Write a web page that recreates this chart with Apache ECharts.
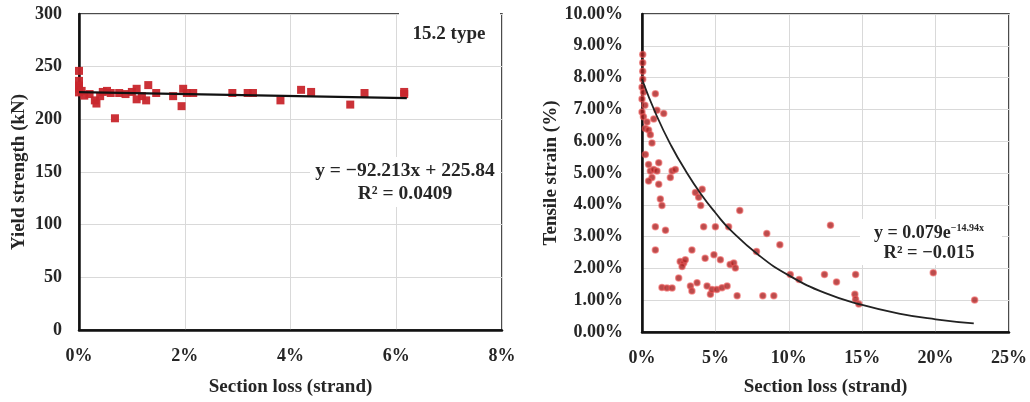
<!DOCTYPE html>
<html>
<head>
<meta charset="utf-8">
<script src="https://cdn.jsdelivr.net/npm/echarts@6/dist/echarts.min.js"></script>
<style>html,body{margin:0;padding:0;background:#fff}#c{width:1030px;height:402px}</style>
</head>
<body>
<div id="c"></div>
<script>
// Left chart: section loss (%) vs yield strength (kN)
const yieldPoints = [
  [0,246],[0,236.5],[0,232],[0,229],[0,225.6],[0.05,227],[0.1,222.5],[0.2,224],
  [0.3,218],[0.33,215],[0.4,222],[0.45,226],[0.53,227],[0.6,225],[0.68,201],
  [0.76,225],[0.88,224],[1.0,226],[1.09,229],[1.09,219],[1.19,222],[1.27,218],
  [1.31,232.5],[1.46,225],[1.78,222],[1.94,212.5],[1.97,229],[2.04,225],[2.16,225],
  [2.9,225],[3.19,225],[3.29,225],[3.81,218],[4.2,228],[4.39,226],[5.13,214],
  [5.4,225],[6.15,224],[6.15,226]
];
const yieldTrend = [[0,225.84],[6.2,220.12]];
const leftXTicks = {min:0,max:8,interval:2};
const leftYTicks = {min:0,max:300,interval:50};

// Right chart: section loss (%) vs tensile strain (%)
const strainPoints = [
  [0.05,8.73],[0.05,8.47],[0.05,8.2],[0.05,7.95],[0,7.7],[0.1,7.54],[0,7.33],[0.2,7.13],
  [0,6.92],[0.1,6.77],[0.34,6.6],[0.23,6.4],[0.45,6.35],[0.57,6.2],[0.8,6.7],[0.68,5.94],
  [0.23,5.58],[0.45,5.27],[0.57,5.06],[0.8,5.11],[1.02,5.06],[0.68,4.86],[0.45,4.75],
  [1.14,5.32],[1.14,4.65],[1.25,4.18],[1.36,3.98],[0.91,7.49],[1.02,6.97],[1.48,6.87],
  [2.05,5.06],[1.93,4.86],[2.27,5.11],[0.91,3.31],[1.6,3.2],[0.91,2.58],[1.36,1.4],
  [1.7,1.38],[2.05,1.38],[2.6,2.22],[2.84,2.17],[2.95,2.27],[2.73,2.06],[2.5,1.7],
  [3.4,2.58],[3.3,1.45],[3.4,1.29],[3.75,1.55],[3.64,4.39],[4.1,4.49],[3.86,4.24],
  [4.0,3.98],[4.2,3.31],[4.3,2.32],[5.0,3.31],[4.9,2.43],[5.34,2.27],[4.43,1.45],
  [4.66,1.19],[4.77,1.34],[5.1,1.34],[5.45,1.39],[5.8,1.45],[5.9,3.31],[6.0,2.12],
  [6.25,2.17],[6.36,2.01],[6.48,1.14],[6.66,3.82],[7.8,2.53],[8.23,1.14],[8.98,1.14],
  [8.5,3.1],[9.39,2.74],[10.1,1.81],[10.7,1.65],[12.43,1.81],[12.84,3.36],[13.25,1.57],
  [14.55,1.81],[14.5,1.19],[14.55,1.03],[14.77,0.88],[19.84,1.86],[22.66,1.01]
];
const strainTrend = [
  [0,7.95],[1,6.8],[2,5.85],[3,5.05],[4,4.35],[5,3.75],[6,3.22],[8,2.4],[10,1.78],
  [12.5,1.22],[15,0.85],[17.5,0.58],[20,0.4],[22.6,0.27]
];
const rightXTicks = {min:0,max:25,interval:5};
const rightYTicks = {min:0,max:10,interval:1};

const FONT = '"Liberation Serif", "DejaVu Serif", serif';
const TXT = '#262626';
const labelStyle = {fontFamily:FONT,fontWeight:'bold',fontSize:18,color:TXT};
const nameStyle = {fontFamily:FONT,fontWeight:'bold',fontSize:19,color:TXT};

const chart = echarts.init(document.getElementById('c'), null, {renderer:'canvas'});
chart.setOption({
  animation:false,
  backgroundColor:'#fff',
  grid:[
    {left:79,top:14,width:423,height:320,show:true,borderColor:'#111',borderWidth:1.5,backgroundColor:'transparent'},
    {left:642,top:14,width:368,height:322,show:true,borderColor:'#111',borderWidth:1.5,backgroundColor:'transparent'}
  ],
  xAxis:[
    {type:'value',gridIndex:0,min:leftXTicks.min,max:leftXTicks.max,interval:leftXTicks.interval,
     name:'Section loss (strand)',nameLocation:'middle',nameGap:48,nameTextStyle:nameStyle,
     axisLine:{show:true,onZero:false,lineStyle:{color:'#111',width:2.5}},axisTick:{show:false},
     axisLabel:Object.assign({margin:17,formatter:'{value}%'},labelStyle),
     splitLine:{show:true,lineStyle:{color:'#d9d9d9',width:1}}},
    {type:'value',gridIndex:1,min:rightXTicks.min,max:rightXTicks.max,interval:rightXTicks.interval,
     name:'Section loss (strand)',nameLocation:'middle',nameGap:46,nameTextStyle:nameStyle,
     axisLine:{show:true,onZero:false,lineStyle:{color:'#111',width:2.5}},axisTick:{show:false},
     axisLabel:Object.assign({margin:17,formatter:'{value}%'},labelStyle),
     splitLine:{show:true,lineStyle:{color:'#d9d9d9',width:1}}}
  ],
  yAxis:[
    {type:'value',gridIndex:0,min:leftYTicks.min,max:leftYTicks.max,interval:leftYTicks.interval,
     name:'Yield strength (kN)',nameLocation:'middle',nameGap:50,nameTextStyle:nameStyle,
     axisLine:{show:true,onZero:false,lineStyle:{color:'#111',width:2.5}},axisTick:{show:false},
     axisLabel:Object.assign({margin:17},labelStyle),
     splitLine:{show:true,lineStyle:{color:'#d9d9d9',width:1}}},
    {type:'value',gridIndex:1,min:rightYTicks.min,max:rightYTicks.max,interval:rightYTicks.interval,
     name:'Tensile strain (%)',nameLocation:'middle',nameGap:81,nameTextStyle:nameStyle,
     axisLine:{show:true,onZero:false,lineStyle:{color:'#111',width:2.5}},axisTick:{show:false},
     axisLabel:Object.assign({margin:19,formatter:function(v){return v.toFixed(2)+'%';}},labelStyle),
     splitLine:{show:true,lineStyle:{color:'#d9d9d9',width:1}}}
  ],
  series:[
    {type:'scatter',xAxisIndex:0,yAxisIndex:0,data:yieldPoints,symbol:'rect',symbolSize:8,
     itemStyle:{color:'#c8262c',opacity:0.95},z:3},
    {type:'line',xAxisIndex:0,yAxisIndex:0,data:yieldTrend,showSymbol:false,
     lineStyle:{color:'#111',width:2.2},z:4},
    {type:'scatter',xAxisIndex:1,yAxisIndex:1,data:strainPoints,symbol:'circle',symbolSize:6,
     itemStyle:{color:'#a82020',borderColor:'rgba(235,90,90,0.75)',borderWidth:1.5},z:3},
    {type:'line',xAxisIndex:1,yAxisIndex:1,data:strainTrend,showSymbol:false,smooth:true,
     lineStyle:{color:'#222',width:1.8},z:4}
  ],
  graphic:[
    {type:'rect',z:50,shape:{x:399,y:11,width:101,height:44},style:{fill:'#fff'}},
    {type:'text',z:51,x:449,y:34,style:{text:'15.2 type',fontFamily:FONT,fontWeight:'bold',fontSize:19,fill:TXT,align:'center',verticalAlign:'middle'}},
    {type:'rect',z:50,shape:{x:310,y:157,width:190,height:50},style:{fill:'#fff'}},
    {type:'text',z:51,x:405,y:171,style:{text:'y = \u221292.213x + 225.84',fontFamily:FONT,fontWeight:'bold',fontSize:19.5,fill:TXT,align:'center',verticalAlign:'middle'}},
    {type:'text',z:51,x:405,y:194,style:{text:'R\u00b2 = 0.0409',fontFamily:FONT,fontWeight:'bold',fontSize:19.5,fill:TXT,align:'center',verticalAlign:'middle'}},
    {type:'rect',z:50,shape:{x:860,y:219,width:142,height:46},style:{fill:'#fff'}},
    {type:'text',z:51,x:929,y:233,style:{
      text:'{a|y = 0.079e}{s|\u221214.94x}',
      rich:{a:{fontFamily:FONT,fontWeight:'bold',fontSize:18,fill:TXT,color:TXT},
            s:{fontFamily:FONT,fontWeight:'bold',fontSize:10,fill:TXT,color:TXT,verticalAlign:'top',padding:[0,0,9,0]}},
      align:'center',verticalAlign:'middle'}},
    {type:'text',z:51,x:929,y:253,style:{text:'R\u00b2 = \u22120.015',fontFamily:FONT,fontWeight:'bold',fontSize:18.5,fill:TXT,align:'center',verticalAlign:'middle'}}
  ]
});
</script>
</body>
</html>
